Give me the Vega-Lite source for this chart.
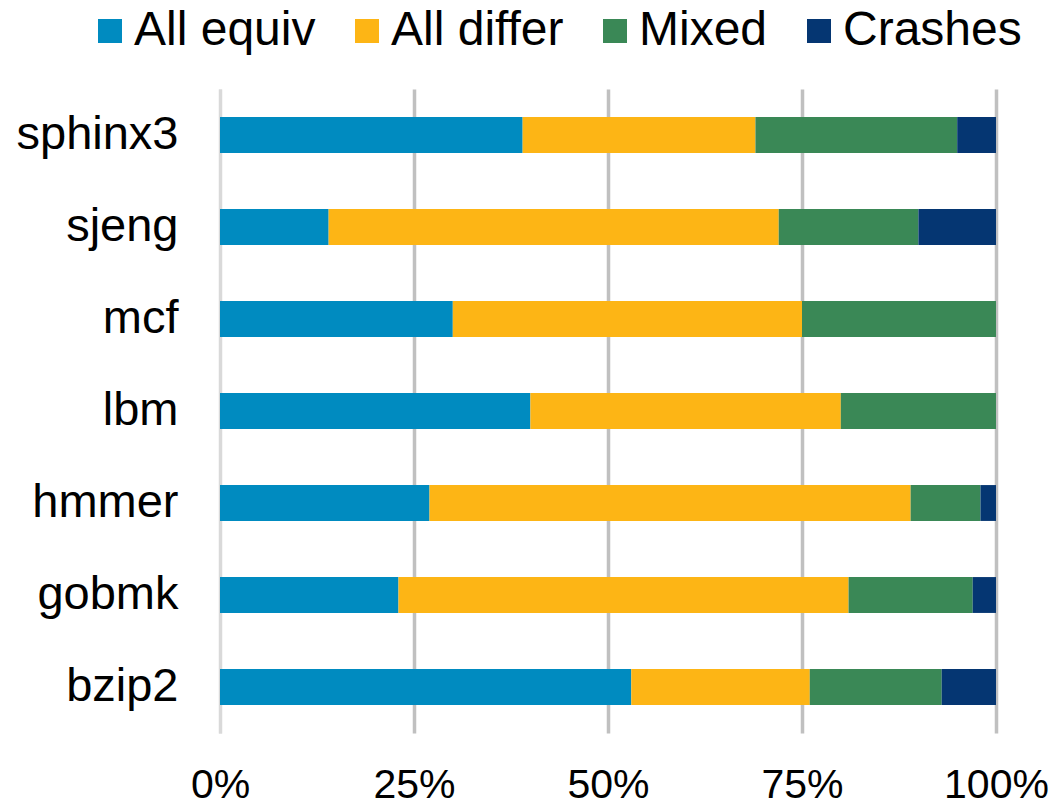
{
  "$schema": "https://vega.github.io/schema/vega-lite/v6.json",
  "autosize": "none",
  "width": 776,
  "height": 644,
  "padding": {"left": 220, "top": 89, "right": 61, "bottom": 72},
  "background": "white",
  "config": {
    "font": "Liberation Sans",
    "view": {"stroke": null}
  },
  "data": {
    "values": [
      {"bench": "sphinx3", "cat": "All equiv", "v": 39},
      {"bench": "sphinx3", "cat": "All differ", "v": 30},
      {"bench": "sphinx3", "cat": "Mixed", "v": 26},
      {"bench": "sphinx3", "cat": "Crashes", "v": 5},
      {"bench": "sjeng", "cat": "All equiv", "v": 14},
      {"bench": "sjeng", "cat": "All differ", "v": 58},
      {"bench": "sjeng", "cat": "Mixed", "v": 18},
      {"bench": "sjeng", "cat": "Crashes", "v": 10},
      {"bench": "mcf", "cat": "All equiv", "v": 30},
      {"bench": "mcf", "cat": "All differ", "v": 45},
      {"bench": "mcf", "cat": "Mixed", "v": 25},
      {"bench": "mcf", "cat": "Crashes", "v": 0},
      {"bench": "lbm", "cat": "All equiv", "v": 40},
      {"bench": "lbm", "cat": "All differ", "v": 40},
      {"bench": "lbm", "cat": "Mixed", "v": 20},
      {"bench": "lbm", "cat": "Crashes", "v": 0},
      {"bench": "hmmer", "cat": "All equiv", "v": 27},
      {"bench": "hmmer", "cat": "All differ", "v": 62},
      {"bench": "hmmer", "cat": "Mixed", "v": 9},
      {"bench": "hmmer", "cat": "Crashes", "v": 2},
      {"bench": "gobmk", "cat": "All equiv", "v": 23},
      {"bench": "gobmk", "cat": "All differ", "v": 58},
      {"bench": "gobmk", "cat": "Mixed", "v": 16},
      {"bench": "gobmk", "cat": "Crashes", "v": 3},
      {"bench": "bzip2", "cat": "All equiv", "v": 53},
      {"bench": "bzip2", "cat": "All differ", "v": 23},
      {"bench": "bzip2", "cat": "Mixed", "v": 17},
      {"bench": "bzip2", "cat": "Crashes", "v": 7}
    ]
  },
  "transform": [
    {"calculate": "indexof(['All equiv', 'All differ', 'Mixed', 'Crashes'], datum.cat)", "as": "ord"}
  ],
  "mark": {"type": "bar"},
  "encoding": {
    "y": {
      "field": "bench",
      "type": "nominal",
      "sort": ["sphinx3", "sjeng", "mcf", "lbm", "hmmer", "gobmk", "bzip2"],
      "scale": {"paddingInner": 0.61, "paddingOuter": 0.305},
      "axis": {
        "title": null,
        "labelFontSize": 47,
        "labelColor": "black",
        "labelPadding": 42,
        "ticks": false,
        "domain": true,
        "domainColor": "#d9d9d9",
        "domainWidth": 3,
        "grid": false
      }
    },
    "x": {
      "field": "v",
      "type": "quantitative",
      "stack": "normalize",
      "scale": {"domain": [0, 1], "nice": false},
      "axis": {
        "title": null,
        "values": [0, 0.25, 0.5, 0.75, 1],
        "format": ".0%",
        "labelFontSize": 41,
        "labelColor": "black",
        "labelPadding": 32,
        "ticks": false,
        "domain": false,
        "grid": true,
        "gridColor": {"condition": {"test": "datum.value === 0", "value": "#d9d9d9"}, "value": "#c0c0c0"},
        "gridWidth": 3.5,
        "labelFlush": false
      }
    },
    "color": {
      "field": "cat",
      "type": "nominal",
      "sort": ["All equiv", "All differ", "Mixed", "Crashes"],
      "scale": {
        "domain": ["All equiv", "All differ", "Mixed", "Crashes"],
        "range": ["#008bc0", "#fdb515", "#3a8856", "#053672"]
      },
      "legend": {
        "title": null,
        "orient": "none",
        "direction": "horizontal",
        "legendX": -134,
        "legendY": -82,
        "padding": 0,
        "symbolType": "square",
        "symbolSize": 576,
        "symbolStrokeWidth": 0,
        "symbolOpacity": 1,
        "labelFontSize": 48,
        "labelColor": "black",
        "labelOffset": 0,
        "columnPadding": 27,
        "labelLimit": 400
      }
    },
    "order": {"field": "ord", "type": "quantitative", "sort": "ascending"}
  }
}
